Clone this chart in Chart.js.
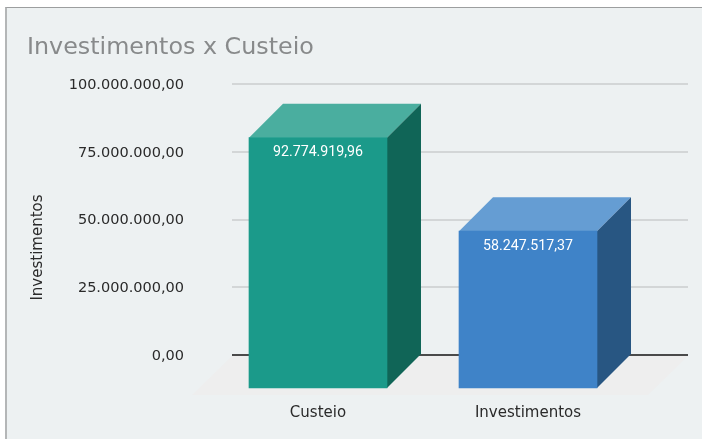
<!DOCTYPE html>
<html><head><meta charset="utf-8">
<style>
html,body{margin:0;padding:0;background:#fff;width:702px;height:439px;overflow:hidden}
#panel{position:absolute;left:5px;top:7px;width:697px;height:432px;box-sizing:border-box;background:#edf1f2;border-left:2px solid #b4b6b7;border-top:1px solid #9c9e9f}
#wrap{position:absolute;left:0;top:0;width:702px;height:439px}
</style>
<script src="https://cdn.jsdelivr.net/npm/chart.js@4"></script>
</head><body>
<div id="panel"></div>
<div id="wrap"><canvas id="c" width="702" height="439"></canvas></div>
<script>
const categories = ['Custeio', 'Investimentos'];
const values = [92774919.96, 58247517.37];
const frontColors = ['#1b9a8a', '#3f83c8'];
const sideColors = ['#106557', '#285682'];
const topColors = ['#4aae9f', '#659dd3'];
const titleText = 'Investimentos x Custeio';
const axisTitle = 'Investimentos';

const DEPTH = 34, FLOOR = 40;
const fmt = v => new Intl.NumberFormat('de-DE',{minimumFractionDigits:2,maximumFractionDigits:2}).format(v);

function poly(ctx, pts, fill){
  ctx.beginPath();
  pts.forEach((p,i)=> i?ctx.lineTo(p[0],p[1]):ctx.moveTo(p[0],p[1]));
  ctx.closePath(); ctx.fillStyle=fill; ctx.fill();
}
const solid3d = {
  id:'solid3d',
  beforeDatasetsDraw(chart){
    const {ctx,chartArea:a} = chart;
    const y0 = Math.round(chart.scales.y.getPixelForValue(0));
    poly(ctx,[[a.left,y0+1],[a.right,y0+1],[a.right-FLOOR,y0+FLOOR],[a.left-FLOOR,y0+FLOOR]],'#eeeeee');
    chart.getDatasetMeta(0).data.forEach((b,i)=>{
      const l=b.x-b.width/2, r=b.x+b.width/2, t=b.y, base=b.base;
      poly(ctx,[[l-DEPTH,t+DEPTH],[r-DEPTH,t+DEPTH],[r,t],[l,t]],topColors[i]);
      poly(ctx,[[r-DEPTH,t+DEPTH],[r,t],[r,base],[r-DEPTH,base+DEPTH]],sideColors[i]);
    });
  },
  beforeDatasetDraw(chart){ chart.ctx.save(); chart.ctx.translate(-DEPTH,DEPTH); },
  afterDatasetDraw(chart){ chart.ctx.restore(); },
  afterDatasetsDraw(chart){
    const {ctx,chartArea:a} = chart;
    ctx.save();
    ctx.font='14.2px Roboto'; ctx.fillStyle='#fff'; ctx.textAlign='center'; ctx.textBaseline='middle';
    chart.getDatasetMeta(0).data.forEach((b,i)=>{
      ctx.fillText(fmt(values[i]), b.x-DEPTH, b.y+DEPTH+15);
    });
    ctx.translate(38,(a.top+a.bottom)/2+28);
    ctx.rotate(-Math.PI/2);
    ctx.font='15px "DejaVu Sans"'; ctx.fillStyle='#2a2a2a';
    ctx.fillText(axisTitle,0,0);
    ctx.restore();
  }
};

new Chart(document.getElementById('c'),{
  type:'bar',
  data:{datasets:[{
    data:values.map((v,i)=>({x:i,y:v})),
    backgroundColor:frontColors,
    borderWidth:0,
    barThickness:138,
    clip:false
  }]},
  plugins:[solid3d],
  options:{
    responsive:false,animation:false,
    layout:{padding:{left:27,right:14,top:0,bottom:0}},
    plugins:{
      legend:{display:false},tooltip:{enabled:false},
      title:{display:true,text:titleText,align:'start',color:'#888a8b',
        font:{family:'"DejaVu Sans"',size:23.8,weight:'normal'},padding:{top:33.5,bottom:22}}
    },
    scales:{
      x:{
        type:'linear',min:-0.5714,max:1.6,offset:false,bounds:'data',
        afterBuildTicks:s=>{s.ticks=categories.map((_,i)=>({value:i}));},
        afterFit:s=>{s.height=84;},
        grid:{display:false},border:{display:false},
        ticks:{autoSkip:false,maxRotation:0,padding:41,labelOffset:-DEPTH,color:'#2a2a2a',
          font:{family:'"DejaVu Sans"',size:15},
          callback:v=>categories[v]}
      },
      y:{
        min:0,max:100000000,
        afterFit:s=>{s.width=205;},
        grid:{drawTicks:false,lineWidth:2,color:c=>c.tick.value===0?'#4a4a4a':'#d3d6d7'},
        border:{display:false},
        ticks:{stepSize:25000000,padding:48,labelOffset:1,color:'#2a2a2a',
          font:{family:'"DejaVu Sans"',size:14.5},callback:v=>fmt(v)}
      }
    }
  }
});
</script>
</body></html>
